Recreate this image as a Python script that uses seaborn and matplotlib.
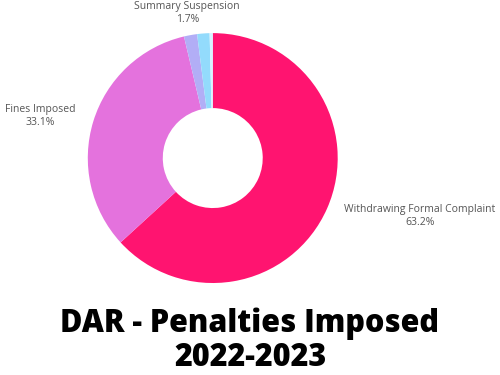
import seaborn as sns
import matplotlib.pyplot as plt

# data
categories = ['Withdrawing Formal Complaint', 'Fines Imposed', 'Summary Suspension', '', '']
shares = [63.2, 33.1, 1.7, 1.6, 0.4]
colors = ['#FF1470', '#E472DD', '#B2AEF6', '#93DBFC', '#D6F3FF']
title = 'DAR - Penalties Imposed\n2022-2023'

sns.set_theme(style='white')
plt.rcParams['font.family'] = ['Open Sans', 'DejaVu Sans']

fig = plt.figure(figsize=(5, 3.75), dpi=100)
ax = fig.add_axes([0.113, 0.162, 0.625, 0.833])

labels = [f'{c}\n{s}%' if c else '' for c, s in zip(categories, shares)]
wedges, texts = ax.pie(shares, labels=labels, colors=sns.color_palette(colors),
                       startangle=90, counterclock=False, labeldistance=1.15,
                       wedgeprops=dict(width=0.6, linewidth=0),
                       textprops=dict(fontsize=7.5, color='#555555', multialignment='center'))
# small slice label sits centred above the ring
texts[2].set_ha('center')
texts[2].set_va('center')
x, y = texts[2].get_position()
texts[2].set_position((x, y + 0.03))
ax.set_aspect('equal')

fig.text(0.5, 1 - 341 / 375, title, ha='center', va='center', fontsize=22,
         fontweight='heavy', color='black', linespacing=1.07)

fig.savefig('out.png', dpi=100)
